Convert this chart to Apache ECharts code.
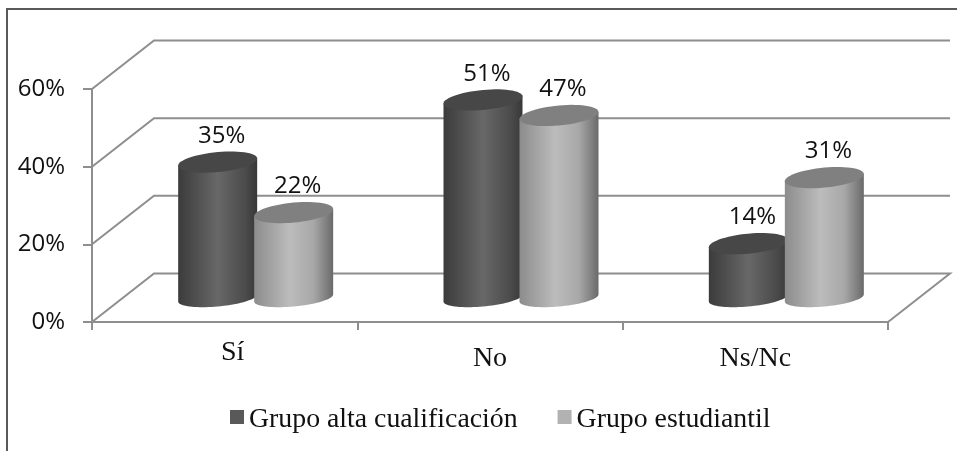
<!DOCTYPE html>
<html>
<head>
<meta charset="utf-8">
<script src="https://cdn.jsdelivr.net/npm/echarts@6/dist/echarts.min.js"></script>
<style>
  html,body{margin:0;padding:0;background:#fff}
  #chart{width:957px;height:451px}
</style>
</head>
<body>
<div id="chart"></div>
<script>
  const categories = ["Sí", "No", "Ns/Nc"];
  const grupoAlta = [35, 51, 14];
  const grupoEstudiantil = [22, 47, 31];
  const yTicks = [0, 20, 40, 60];

  // 3d look: wall depth and the floor position of the cylinders
  const depthX = 62, depthY = 48.5;
  const floorX = 31, floorY = 24;
  const rx = 39.5, capRy = 10, baseRy = 8.5, tilt = 0.09;
  const lineColor = "#8e8e8e";

  function ellipsePoint(cx, cy, ry, t){
    return [
      cx + rx * Math.cos(t),
      cy + ry * Math.sin(t) - tilt * rx * Math.cos(t)
    ];
  }

  function cylinder(side, colors, topColor){
    return function(params, api){
      const idx = api.value(0);
      const base = api.coord([idx, 0]);
      const top = api.coord([idx, api.value(1)]);
      const cx = base[0] + floorX + side * 38;
      const baseY = base[1] - floorY;
      const topY = top[1] - floorY;

      const body = [];
      for(let i = 0; i <= 40; i++){
        body.push(ellipsePoint(cx, baseY, baseRy, Math.PI * i / 40));
      }
      body.push(ellipsePoint(cx, topY, capRy, Math.PI));
      body.push(ellipsePoint(cx, topY, capRy, 0));

      const cap = [];
      for(let i = 0; i < 60; i++){
        cap.push(ellipsePoint(cx, topY, capRy, Math.PI * 2 * i / 60));
      }

      return {
        type: "group",
        children: [
          {
            type: "polygon",
            shape: {points: body},
            style: {fill: new echarts.graphic.LinearGradient(0, 0, 1, 0, colors)}
          },
          {type: "polygon", shape: {points: cap}, style: {fill: topColor}},
          {
            type: "text",
            style: {
              text: api.value(1) + "%",
              x: cx + 4,
              y: topY - 26,
              align: "center",
              verticalAlign: "middle",
              font: '24px "Open Sans"',
              fill: "#111"
            }
          }
        ]
      };
    };
  }

  const darkStops = [
    {offset: 0, color: "#3b3b3b"},
    {offset: 0.2, color: "#4d4d4d"},
    {offset: 0.5, color: "#686868"},
    {offset: 0.85, color: "#4b4b4b"},
    {offset: 1, color: "#383838"}
  ];
  const lightStops = [
    {offset: 0, color: "#8c8c8c"},
    {offset: 0.45, color: "#bcbcbc"},
    {offset: 0.75, color: "#a8a8a8"},
    {offset: 1, color: "#6a6a6a"}
  ];

  const myChart = echarts.init(document.getElementById("chart"));

  myChart.setOption({
    animation: false,
    backgroundColor: "#fff",
    grid: {left: 92, right: 69, top: 89, bottom: 129},
    graphic: [{
      type: "polyline",
      shape: {points: [[7, 451], [7, 9], [957, 9]]},
      style: {fill: "none", stroke: "#5a5a5a", lineWidth: 2},
      silent: true
    }],
    legend: {
      left: 225,
      top: 401,
      // square sits in the upper part of the icon box so it stays above the text centre
      icon: "path://M0,0H14V14H0Z M0,20L0,20",
      itemWidth: 14,
      itemHeight: 20,
      itemGap: 40,
      data: ["Grupo alta cualificación", "Grupo estudiantil"],
      textStyle: {fontFamily: "Liberation Serif", fontSize: 27.8, color: "#111"}
    },
    xAxis: {
      type: "category",
      data: [
        {value: categories[0], textStyle: {padding: [0, 0, 0, 16]}},
        {value: categories[1], textStyle: {padding: [6, 0, 0, 0]}},
        {value: categories[2], textStyle: {padding: [6, 0, 0, 0]}}
      ],
      axisLine: {lineStyle: {color: lineColor, width: 2}},
      axisTick: {show: true, length: 8, lineStyle: {color: lineColor, width: 2}},
      axisLabel: {fontFamily: "Liberation Serif", fontSize: 28, color: "#111", margin: 17}
    },
    yAxis: {
      type: "value",
      min: 0,
      max: 60,
      interval: 20,
      axisLine: {show: true, lineStyle: {color: lineColor, width: 2}},
      axisTick: {show: true, length: 9, lineStyle: {color: lineColor, width: 2}},
      axisLabel: {
        formatter: "{value}%",
        fontFamily: "Open Sans",
        fontSize: 24,
        color: "#111",
        margin: 27
      },
      splitLine: {show: false}
    },
    series: [
      {
        type: "custom",
        silent: true,
        clip: false,
        data: yTicks.map(v => [0, v]),
        renderItem: function(params, api){
          const y = api.coord([0, api.value(1)])[1];
          const left = params.coordSys.x;
          const right = left + params.coordSys.width;
          const style = {stroke: lineColor, lineWidth: 2, fill: "none"};
          const points = [[left, y], [left + depthX, y - depthY], [right + depthX, y - depthY]];
          if(api.value(1) === 0) points.push([right, y]);
          return {type: "polyline", shape: {points: points}, style: style};
        }
      },
      {
        name: "Grupo alta cualificación",
        type: "custom",
        clip: false,
        itemStyle: {color: "#595959"},
        data: grupoAlta.map((v, i) => [i, v]),
        renderItem: cylinder(-1, darkStops, "#474747")
      },
      {
        name: "Grupo estudiantil",
        type: "custom",
        clip: false,
        itemStyle: {color: "#b2b2b2"},
        data: grupoEstudiantil.map((v, i) => [i, v]),
        renderItem: cylinder(1, lightStops, "#808080")
      }
    ]
  });
</script>
</body>
</html>
